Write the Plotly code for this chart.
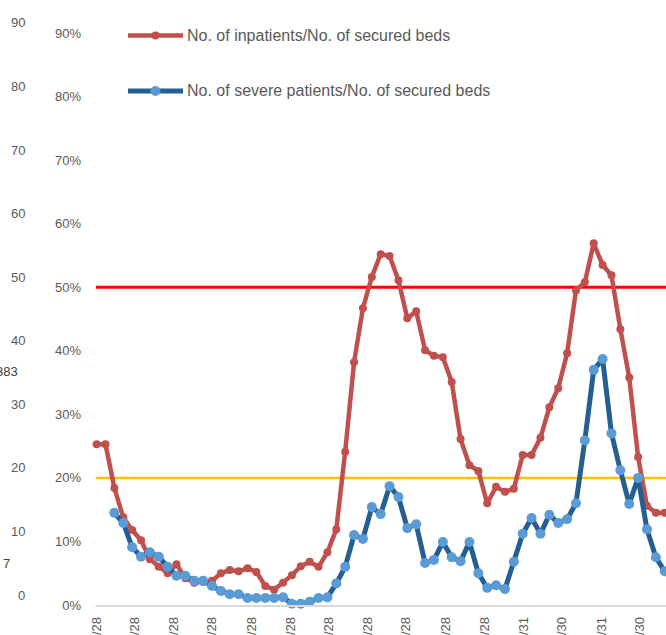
import pandas as pd
import plotly.graph_objects as go

# weekly ratios (%)
inpatients = [25.3, 25.3, 18.4, 13.8, 11.8, 10.2, 7.2, 6.0, 5.0, 6.4,
              4.2, 3.5, 3.6, 3.8, 5.0, 5.5, 5.3, 5.8, 5.2, 3.0,
              2.4, 3.5, 4.7, 6.1, 6.8, 6.0, 8.3, 11.9, 24.1, 38.2,
              46.7, 51.6, 55.2, 54.9, 51.1, 45.1, 46.2, 40.1, 39.2, 39.0,
              35.1, 26.1, 22.0, 21.1, 16.0, 18.6, 17.8, 18.3, 23.6, 23.6,
              26.3, 31.1, 34.1, 39.6, 49.5, 50.8, 56.9, 53.5, 51.9, 43.4,
              35.8, 23.3, 15.6, 14.5, 14.5]
severe = [None, None, 14.5, 12.9, 9.1, 7.6, 8.3, 7.6, 6.0, 4.6,
          4.6, 3.8, 3.8, 3.0, 2.2, 1.7, 1.7, 1.1, 1.1, 1.1,
          1.1, 1.2, 0.2, 0.2, 0.5, 1.1, 1.2, 3.4, 6.0, 11.0,
          10.4, 15.4, 14.3, 18.7, 17.0, 12.1, 12.7, 6.6, 7.1, 9.9,
          7.5, 6.9, 9.9, 5.0, 2.7, 3.1, 2.5, 6.8, 11.2, 13.7,
          11.2, 14.2, 12.9, 13.5, 16.0, 25.9, 37.0, 38.7, 27.0, 21.2,
          15.9, 20.0, 11.9, 7.5, 5.3]
dates = pd.date_range('2020-04-28', periods=len(inpatients), freq='7D')

tick_dates = ['2020-04-28', '2020-05-28', '2020-06-28', '2020-07-28', '2020-08-28',
              '2020-09-28', '2020-10-28', '2020-11-28', '2020-12-28', '2021-01-28',
              '2021-02-28', '2021-03-31', '2021-04-30', '2021-05-31', '2021-06-30']
tick_text = [f'{d.year}/{d.month}/{d.day}' for d in pd.to_datetime(tick_dates)]

pct_ticks = [0, 10, 20, 30, 40, 50, 60, 70, 80, 90]
left_labels = ['0', '10', '20', '30', '40', '50', '60', '70', '80', '90']
stray = [('383', 36.8, 20), ('7', 6.6, 12)]

names = ['No. of inpatients/No. of secured beds', 'No. of severe patients/No. of secured beds']
thresholds = [(50, '#FF0000', 3), (20, '#FFC000', 2.5)]

W, H = 666, 635
L, R, T, B = 96, 0, 33, 30
pw = W - L - R
ph = H - T - B

def px_x(p):
    return (p - L) / pw

def px_y(p):
    return (H - B - p) / ph

fig = go.Figure()
fig.add_trace(go.Scatter(x=dates, y=[v / 100 for v in inpatients], mode='lines+markers',
                         line=dict(color='#C0504D', width=4.5),
                         marker=dict(color='#C0504D', size=8),
                         cliponaxis=False, showlegend=False))
fig.add_trace(go.Scatter(x=dates, y=[None if v is None else v / 100 for v in severe],
                         mode='lines+markers',
                         line=dict(color='#255E91', width=5),
                         marker=dict(color='#5B9BD5', size=10),
                         cliponaxis=False, showlegend=False))

for val, col, w in thresholds:
    fig.add_shape(type='line', xref='paper', yref='y', x0=0, x1=1, y0=val / 100, y1=val / 100,
                  line=dict(color=col, width=w), layer='below')

# legend drawn by hand (long line samples like the original)
legend_rows = [(35.5, '#C0504D', '#C0504D', 4.5, 8), (91, '#255E91', '#5B9BD5', 5, 10)]
for (ypix, lc, mc, lw, ms), name in zip(legend_rows, names):
    yp = px_y(ypix)
    fig.add_shape(type='line', xref='paper', yref='paper', x0=px_x(128), x1=px_x(183),
                  y0=yp, y1=yp, line=dict(color=lc, width=lw))
    r = ms / 2
    fig.add_shape(type='circle', xref='paper', yref='paper',
                  x0=px_x(155.5 - r), x1=px_x(155.5 + r),
                  y0=yp - r / ph, y1=yp + r / ph,
                  fillcolor=mc, line=dict(width=0))
    fig.add_annotation(x=px_x(185), y=yp, xref='paper', yref='paper', text=name,
                       showarrow=False, xanchor='left', yanchor='middle',
                       font=dict(size=16, color='#595959'))

# stray axis labels from the neighbouring chart (sit ~10px above the % ticks)
shift = 10 / ph * 0.9
for lab, v in zip(left_labels, pct_ticks):
    fig.add_annotation(x=px_x(27), y=(v / 100 + shift) / 0.9, xref='paper', yref='paper',
                       text=lab, showarrow=False, xanchor='right', yanchor='middle',
                       font=dict(size=13, color='#595959'))
for lab, v, xr in stray:
    fig.add_annotation(x=px_x(xr), y=v / 100 / 0.9, xref='paper', yref='paper', text=lab,
                       showarrow=False, xanchor='right', yanchor='middle',
                       font=dict(size=13, color='#404040'))

fig.update_layout(
    width=W, height=H,
    margin=dict(l=L, r=R, t=T, b=B, autoexpand=False),
    paper_bgcolor='white', plot_bgcolor='white',
    font=dict(family='Liberation Sans, Arial, sans-serif', size=13, color='#595959'),
    showlegend=False,
)
fig.update_xaxes(type='date',
                 range=[dates[0] - pd.Timedelta(days=0.5), dates[0] + pd.Timedelta(days=449)],
                 tickvals=tick_dates, ticktext=tick_text, tickangle=-90,
                 showgrid=False, zeroline=False, showline=True, linecolor='#D9D9D9', linewidth=1.5,
                 ticks='', ticklabelstandoff=5, tickfont=dict(size=13, color='#595959'))
fig.update_yaxes(range=[0, 0.9], tickvals=[v / 100 for v in pct_ticks],
                 ticktext=[f'{v}%' for v in pct_ticks],
                 showgrid=False, zeroline=False, showline=False, ticks='',
                 ticklabelstandoff=14, tickfont=dict(size=13, color='#595959'))

# page margin off so the figure sits at the window corner
fig.write_html('out.html', config={'displayModeBar': False},
               post_script="document.body.style.margin='0';")
